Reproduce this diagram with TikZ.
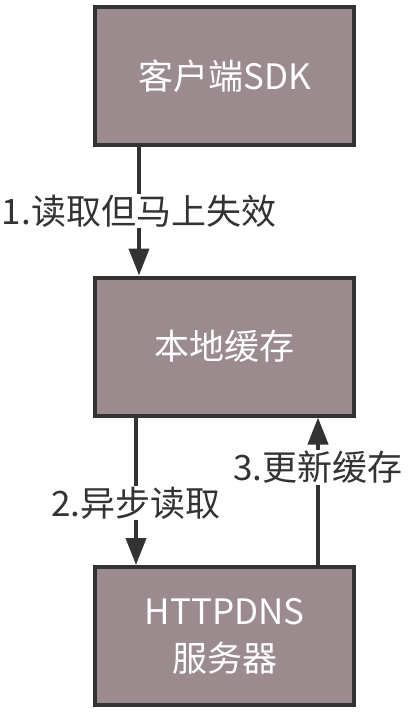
\documentclass[tikz,border=0pt]{standalone}
\usepackage{fontspec}
\setmainfont{Noto Sans CJK SC}
\usepackage{xcolor}
\usepackage{tikz}
\usetikzlibrary{arrows.meta, positioning}
\definecolor{boxfill}{HTML}{9B8B8F}
\definecolor{linegray}{HTML}{333333}

\begin{document}
\begin{tikzpicture}[x=1pt, y=1pt, on grid,
   block/.style={draw=linegray, line width=4pt, fill=boxfill, minimum width=259pt,
      minimum height=138pt, text=white, align=center, font=\fontsize{35}{47}\selectfont},
   link/.style={draw=linegray, line width=4pt, -{Triangle[width=20pt, length=27pt]}},
   lbl/.style={fill=white, text=linegray, inner sep=1pt, font=\fontsize{35}{40}\selectfont}]
   \useasboundingbox (0,0) rectangle (408,-713);
   % 定义方框节点
   \node[block] (sdk) at (224.5,-76) {客户端SDK};
   \node[block] (cache) [below=270.5pt of sdk] {本地缓存};
   \node[block] (server) [below=289.5pt of cache] {HTTPDNS\\服务器};

   % 绘制箭头
   % SDK 读取缓存
   \draw[link] ([xshift=-85.5pt]sdk.south) -- node[lbl] {1.读取但马上失效} ([xshift=-85.5pt]cache.north);
   % 缓存异步读取服务器
   \draw[link] ([xshift=-88.5pt]cache.south) -- node[lbl, pos=0.58] {2.异步读取} ([xshift=-88.5pt]server.north);
   % 服务器更新缓存
   \draw[link] ([xshift=93.5pt]server.north) -- node[lbl, pos=0.66] {3.更新缓存} ([xshift=93.5pt]cache.south);
\end{tikzpicture}
\end{document}
